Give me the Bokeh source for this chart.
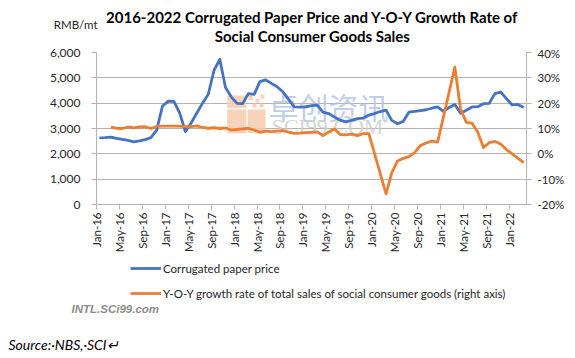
import pandas as pd
from bokeh.plotting import figure
from bokeh.layouts import column
from bokeh.models import (Range1d, LinearAxis, FixedTicker, NumeralTickFormatter,
                          PrintfTickFormatter, Legend, LegendItem, Label, BoxAnnotation,
                          ColumnDataSource)
from bokeh.embed import file_html
from bokeh.resources import INLINE

# ---------------- data ----------------
price_months = list(pd.date_range("2016-01-01", "2022-03-01", freq="MS"))
price_values = [2630, 2640, 2660, 2610, 2570, 2530, 2470, 2510, 2560, 2640,
                2935, 3880, 4080, 4070, 3620, 2880, 3220, 3610, 4000, 4350,
                5300, 5730, 4620, 4250, 3990, 3980, 4380, 4350, 4850, 4920,
                4780, 4650, 4450, 4150, 3850, 3840, 3855, 3900, 3920, 3650,
                3590, 3450, 3330, 3260, 3320, 3390, 3410, 3530, 3590, 3670,
                3725, 3320, 3190, 3280, 3650, 3680, 3710, 3740, 3800, 3850,
                3680, 3830, 3950, 3600, 3720, 3850, 3860, 3980, 3990, 4380,
                4440, 4180, 3930, 3950, 3830]

# Y-O-Y growth of retail sales: Mar-Dec of each year (Jan-Feb not shown), plus Mar-22
yoy_months = [pd.Timestamp(year=y, month=m, day=1) for y in range(2016, 2022) for m in range(3, 13)]
yoy_months.append(pd.Timestamp("2022-03-01"))
yoy_values = [10.5, 10.1, 10.0, 10.6, 10.2, 10.6, 10.7, 10.0, 10.8, 10.9,
              10.9, 10.7, 10.7, 11.0, 10.4, 10.1, 10.3, 10.0, 10.2, 9.4,
              10.1, 9.4, 8.5, 9.0, 8.8, 9.0, 9.2, 8.6, 8.1, 8.2,
              8.7, 7.2, 8.6, 9.8, 7.6, 7.5, 7.8, 7.2, 8.0, 8.0,
              -15.8, -7.5, -2.8, -1.8, -1.1, 0.5, 3.3, 4.3, 5.0, 4.6,
              34.2, 17.7, 12.4, 12.1, 8.5, 2.5, 4.4, 4.9, 3.9, 1.7,
              -3.5]

tick_labels = ["Jan-16", "May-16", "Sep-16", "Jan-17", "May-17", "Sep-17", "Jan-18",
               "May-18", "Sep-18", "Jan-19", "May-19", "Sep-19", "Jan-20", "May-20",
               "Sep-20", "Jan-21", "May-21", "Sep-21", "Jan-22"]

title_lines = ["2016-2022 Corrugated Paper Price and Y-O-Y Growth Rate of",
               "Social Consumer Goods Sales"]
series_names = ["Corrugated paper price",
                "Y-O-Y growth rate of total sales of social consumer goods (right axis)"]


def month_pos(ts):
    return (ts.year - 2016) * 12 + (ts.month - 1) + 0.5


BLUE = "#4472C4"
ORANGE = "#ED7D31"
GRID = "#B4B4B4"
FONT = "Lato"
TXT = "#262626"
W = 567
NAN = float("nan")


def blank_fig(height, y_top, y_bottom):
    f = figure(width=W, height=height, output_backend="svg", toolbar_location=None,
               x_range=Range1d(0, W), y_range=Range1d(y_bottom, y_top),
               x_axis_type=None, y_axis_type=None, frame_align=False,
               min_border=0, min_border_left=0, min_border_right=0,
               min_border_top=0, min_border_bottom=0)
    f.outline_line_color = None
    f.xgrid.grid_line_color = None
    f.ygrid.grid_line_color = None
    return f


# ---------------- top: titles ----------------
top = blank_fig(46, 0, 46)
for txt, yy in zip(title_lines, [16, 35]):
    top.add_layout(Label(x=312, y=yy, text=txt, text_font=FONT, text_font_style="bold",
                         text_font_size="15px", text_color="#000000",
                         text_align="center", text_baseline="middle"))
top.add_layout(Label(x=97, y=24, text="RMB/mt", text_font=FONT, text_font_size="11.5px",
                     text_color=TXT, text_align="right", text_baseline="middle"))

# ---------------- main chart ----------------
p = figure(width=W, height=209, output_backend="svg", toolbar_location=None,
           x_range=Range1d(0, 75), y_range=Range1d(0, 6000), frame_align=False,
           min_border_left=96, min_border_right=39, min_border_top=6,
           min_border_bottom=50)
p.outline_line_color = None
p.extra_y_ranges = {"yoy": Range1d(-20, 40)}

xa = p.xaxis[0]
xa.ticker = FixedTicker(ticks=[i * 4 for i in range(len(tick_labels))])
xa.major_label_overrides = {i * 4: lab for i, lab in enumerate(tick_labels)}
xa.major_label_orientation = 1.5707963
xa.minor_tick_line_color = None
xa.major_tick_in = 0
xa.major_tick_out = 5
xa.axis_line_color = GRID
xa.major_tick_line_color = GRID
xa.major_label_text_font = FONT
xa.major_label_text_font_size = "11.5px"
xa.major_label_text_color = TXT
xa.major_label_standoff = 3

ya = p.yaxis[0]
ya.ticker = FixedTicker(ticks=[0, 1000, 2000, 3000, 4000, 5000, 6000])
ya.formatter = NumeralTickFormatter(format="0,0")
ya.minor_tick_line_color = None
ya.major_tick_in = 0
ya.major_tick_out = 5
ya.axis_line_color = GRID
ya.major_tick_line_color = GRID
ya.major_label_text_font = FONT
ya.major_label_text_font_size = "12px"
ya.major_label_text_color = TXT
ya.major_label_standoff = 11

ra = LinearAxis(y_range_name="yoy", ticker=FixedTicker(ticks=[-20, -10, 0, 10, 20, 30, 40]),
                formatter=PrintfTickFormatter(format="%d%%"))
ra.minor_tick_line_color = None
ra.major_tick_in = 0
ra.major_tick_out = 5
ra.axis_line_color = GRID
ra.major_tick_line_color = GRID
ra.major_label_text_font = FONT
ra.major_label_text_font_size = "11.5px"
ra.major_label_text_color = TXT
ra.major_label_standoff = 6
p.add_layout(ra, "right")

p.xgrid.grid_line_color = None
p.ygrid.grid_line_color = GRID

# watermark logo (decorative, canvas pixels of this panel)
wm_boxes = [(226.7, 245.5, 49, 61.5), (226.7, 245.5, 63, 86.7), (247, 265, 63, 86.7),
            (248, 252.5, 49, 53.5), (255, 259, 52, 56), (260, 264, 48, 52),
            (252, 256, 57, 61), (259, 263, 57, 61)]
for l, r, t, b in wm_boxes:
    p.add_layout(BoxAnnotation(left=l, right=r, top=t, bottom=b,
                               left_units="canvas", right_units="canvas",
                               top_units="canvas", bottom_units="canvas",
                               fill_color="#F8CBAD", fill_alpha=0.85, line_color=None,
                               level="underlay"))
p.add_layout(Label(x=268, y=59, x_units="canvas", y_units="canvas", text="卓创资讯",
                   text_font="Noto Sans CJK SC", text_font_size="30px",
                   text_color="#AFC2E4", text_alpha=0.8, text_baseline="middle",
                   level="underlay"))
p.add_layout(Label(x=271, y=80, x_units="canvas", y_units="canvas", text="SCI99.COM",
                   text_font="Liberation Serif", text_font_size="22px",
                   text_color="#CFCFCF", text_alpha=0.9, text_baseline="middle",
                   level="underlay"))

src_p = ColumnDataSource(dict(x=[month_pos(m) for m in price_months], y=price_values))
src_y = ColumnDataSource(dict(x=[month_pos(m) for m in yoy_months], y=yoy_values))
p.line("x", "y", source=src_p, line_color=BLUE, line_width=2.8, line_join="round")
p.line("x", "y", source=src_y, line_color=ORANGE, line_width=2.8, line_join="round",
       y_range_name="yoy")

# ---------------- bottom: legend and notes ----------------
bot = blank_fig(103, 255, 358)
# invisible proxies (no drawable points) that carry the legend styles
lg_b = bot.line(x=[NAN, NAN], y=[NAN, NAN], line_color=BLUE, line_width=2.8)
lg_o = bot.line(x=[NAN, NAN], y=[NAN, NAN], line_color=ORANGE, line_width=2.8)
legend = Legend(items=[LegendItem(label=series_names[0], renderers=[lg_b]),
                       LegendItem(label=series_names[1], renderers=[lg_o])],
                location=(130, 57), orientation="vertical",
                glyph_width=31, glyph_height=16, label_height=16,
                label_standoff=2, spacing=9, padding=0, margin=0,
                border_line_color=None, background_fill_alpha=0,
                label_text_font=FONT, label_text_font_size="11.5px",
                label_text_color=TXT)
bot.add_layout(legend, "center")
bot.add_layout(Label(x=71, y=308.5, text="INTL.SCi99.com", text_font="Liberation Sans",
                     text_font_style="bold italic", text_font_size="11.5px",
                     text_color="#8C8C8C", text_baseline="middle"))
bot.add_layout(Label(x=8, y=344, text="Source:·NBS,·SCI↵", text_font=FONT,
                     text_font_style="italic", text_font_size="14px",
                     text_color="#000000", text_baseline="middle"))

layout = column(top, p, bot, spacing=0)
open("out.html", "w").write(file_html(layout, INLINE))
